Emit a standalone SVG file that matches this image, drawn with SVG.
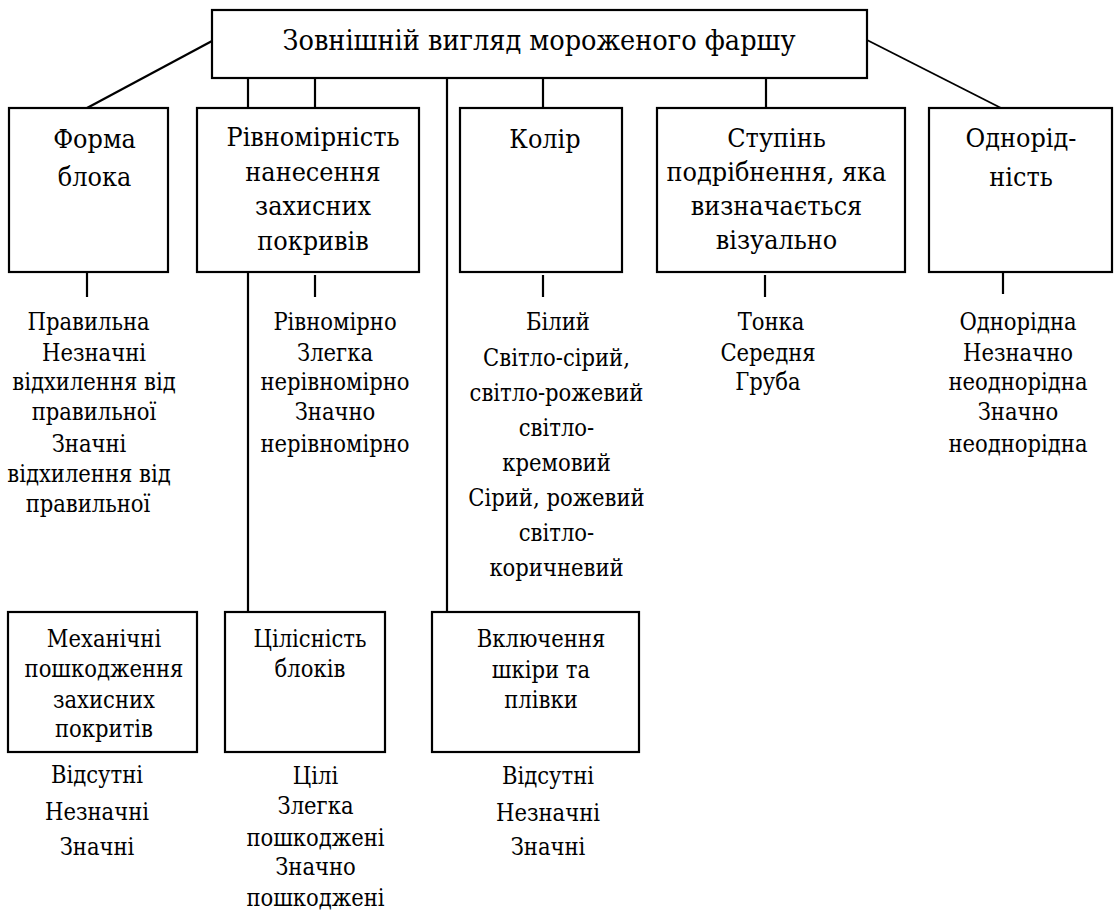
<svg xmlns="http://www.w3.org/2000/svg" width="1116" height="911" viewBox="0 0 1116 911">
<style>
.box{fill:#fff;stroke:#000;stroke-width:2.2}
.ln{stroke:#000;stroke-width:2.2;fill:none}
text{fill:#000;text-anchor:middle;font-family:'DejaVu Serif Condensed','DejaVu Serif',serif;font-stretch:condensed}
.t0{font-size:28.5px}
.t1{font-size:26.7px}
.t2{font-size:23.5px}
</style>
<rect width="1116" height="911" fill="#fff"/>
<g id="connectors">
<line class="ln" x1="212" y1="41" x2="87" y2="108"/>
<line class="ln" x1="867" y1="40" x2="1001" y2="108" style="stroke-width:1.8"/>
<line class="ln" x1="248" y1="78" x2="248" y2="108"/>
<line class="ln" x1="315" y1="78" x2="315" y2="108"/>
<line class="ln" x1="447" y1="78" x2="447" y2="611"/>
<line class="ln" x1="543" y1="78" x2="543" y2="108"/>
<line class="ln" x1="766" y1="78" x2="766" y2="108"/>
<line class="ln" x1="87" y1="273" x2="87" y2="297"/>
<line class="ln" x1="248" y1="272" x2="248" y2="611"/>
<line class="ln" x1="315" y1="275" x2="315" y2="297"/>
<line class="ln" x1="543" y1="275" x2="543" y2="297"/>
<line class="ln" x1="765" y1="275" x2="765" y2="297"/>
<line class="ln" x1="1003" y1="273" x2="1003" y2="294"/>
</g>
<g id="root">
<rect class="box" x="212" y="10" width="655" height="68"/>
<text class="t0" x="539" y="50">Зовнішній вигляд мороженого фаршу</text>
</g>
<g id="forma">
<rect class="box" x="9" y="108" width="159" height="164"/>
<text class="t1" x="94.5" y="148">Форма</text>
<text class="t1" x="94.5" y="186">блока</text>
</g>
<g id="rivnomirnist">
<rect class="box" x="197" y="108" width="222" height="164"/>
<text class="t1" x="313" y="146">Рівномірність</text>
<text class="t1" x="313" y="180.5">нанесення</text>
<text class="t1" x="313" y="215">захисних</text>
<text class="t1" x="313" y="249.5">покривів</text>
</g>
<g id="kolir">
<rect class="box" x="460" y="108" width="162" height="164"/>
<text class="t1" x="545" y="148">Колір</text>
</g>
<g id="stupin">
<rect class="box" x="657" y="108" width="248" height="164"/>
<text class="t1" x="776.5" y="147">Ступінь</text>
<text class="t1" x="776.5" y="181">подрібнення, яка</text>
<text class="t1" x="776.5" y="215">визначається</text>
<text class="t1" x="776.5" y="249">візуально</text>
</g>
<g id="odnoridnist">
<rect class="box" x="929" y="108" width="183" height="164"/>
<text class="t1" x="1021" y="147">Однорід-</text>
<text class="t1" x="1021" y="186">ність</text>
</g>
<g id="mekhanichni">
<rect class="box" x="8" y="612" width="189" height="140"/>
<text class="t2" x="104" y="647">Механічні</text>
<text class="t2" x="104" y="677">пошкодження</text>
<text class="t2" x="104" y="708">захисних</text>
<text class="t2" x="104" y="737">покритів</text>
</g>
<g id="tsilisnist">
<rect class="box" x="225" y="612" width="160" height="140"/>
<text class="t2" x="310" y="647">Цілісність</text>
<text class="t2" x="310" y="677">блоків</text>
</g>
<g id="vkliuchennia">
<rect class="box" x="432" y="612" width="207" height="140"/>
<text class="t2" x="541" y="647">Включення</text>
<text class="t2" x="541" y="678">шкіри та</text>
<text class="t2" x="541" y="708">плівки</text>
</g>
<g id="forma-values">
<text class="t2" x="88.6" y="330">Правильна</text>
<text class="t2" x="94" y="361">Незначні</text>
<text class="t2" x="94" y="390">відхилення від</text>
<text class="t2" x="94" y="420">правильної</text>
<text class="t2" x="89" y="452">Значні</text>
<text class="t2" x="89" y="482">відхилення від</text>
<text class="t2" x="88" y="512">правильної</text>
</g>
<g id="rivnomirnist-values">
<text class="t2" x="335" y="330">Рівномірно</text>
<text class="t2" x="335" y="361">Злегка</text>
<text class="t2" x="335" y="390">нерівномірно</text>
<text class="t2" x="335" y="420">Значно</text>
<text class="t2" x="335" y="452">нерівномірно</text>
</g>
<g id="kolir-values">
<text class="t2" x="558" y="330">Білий</text>
<text class="t2" x="556.5" y="366">Світло-сірий,</text>
<text class="t2" x="556.5" y="401">світло-рожевий</text>
<text class="t2" x="556.5" y="436">світло-</text>
<text class="t2" x="556.5" y="471">кремовий</text>
<text class="t2" x="556.5" y="506">Сірий, рожевий</text>
<text class="t2" x="556.5" y="541">світло-</text>
<text class="t2" x="556.5" y="576">коричневий</text>
</g>
<g id="stupin-values">
<text class="t2" x="771" y="330">Тонка</text>
<text class="t2" x="768" y="361">Середня</text>
<text class="t2" x="768" y="390">Груба</text>
</g>
<g id="odnoridnist-values">
<text class="t2" x="1018" y="330">Однорідна</text>
<text class="t2" x="1018" y="361">Незначно</text>
<text class="t2" x="1018" y="390">неоднорідна</text>
<text class="t2" x="1018" y="420">Значно</text>
<text class="t2" x="1018" y="452">неоднорідна</text>
</g>
<g id="mekhanichni-values">
<text class="t2" x="97" y="783">Відсутні</text>
<text class="t2" x="97" y="820">Незначні</text>
<text class="t2" x="97" y="855">Значні</text>
</g>
<g id="tsilisnist-values">
<text class="t2" x="315.5" y="784">Цілі</text>
<text class="t2" x="315.5" y="814">Злегка</text>
<text class="t2" x="315.5" y="846">пошкоджені</text>
<text class="t2" x="315.5" y="875">Значно</text>
<text class="t2" x="315.5" y="906">пошкоджені</text>
</g>
<g id="vkliuchennia-values">
<text class="t2" x="548" y="784">Відсутні</text>
<text class="t2" x="548" y="821">Незначні</text>
<text class="t2" x="548" y="855">Значні</text>
</g>
</svg>
